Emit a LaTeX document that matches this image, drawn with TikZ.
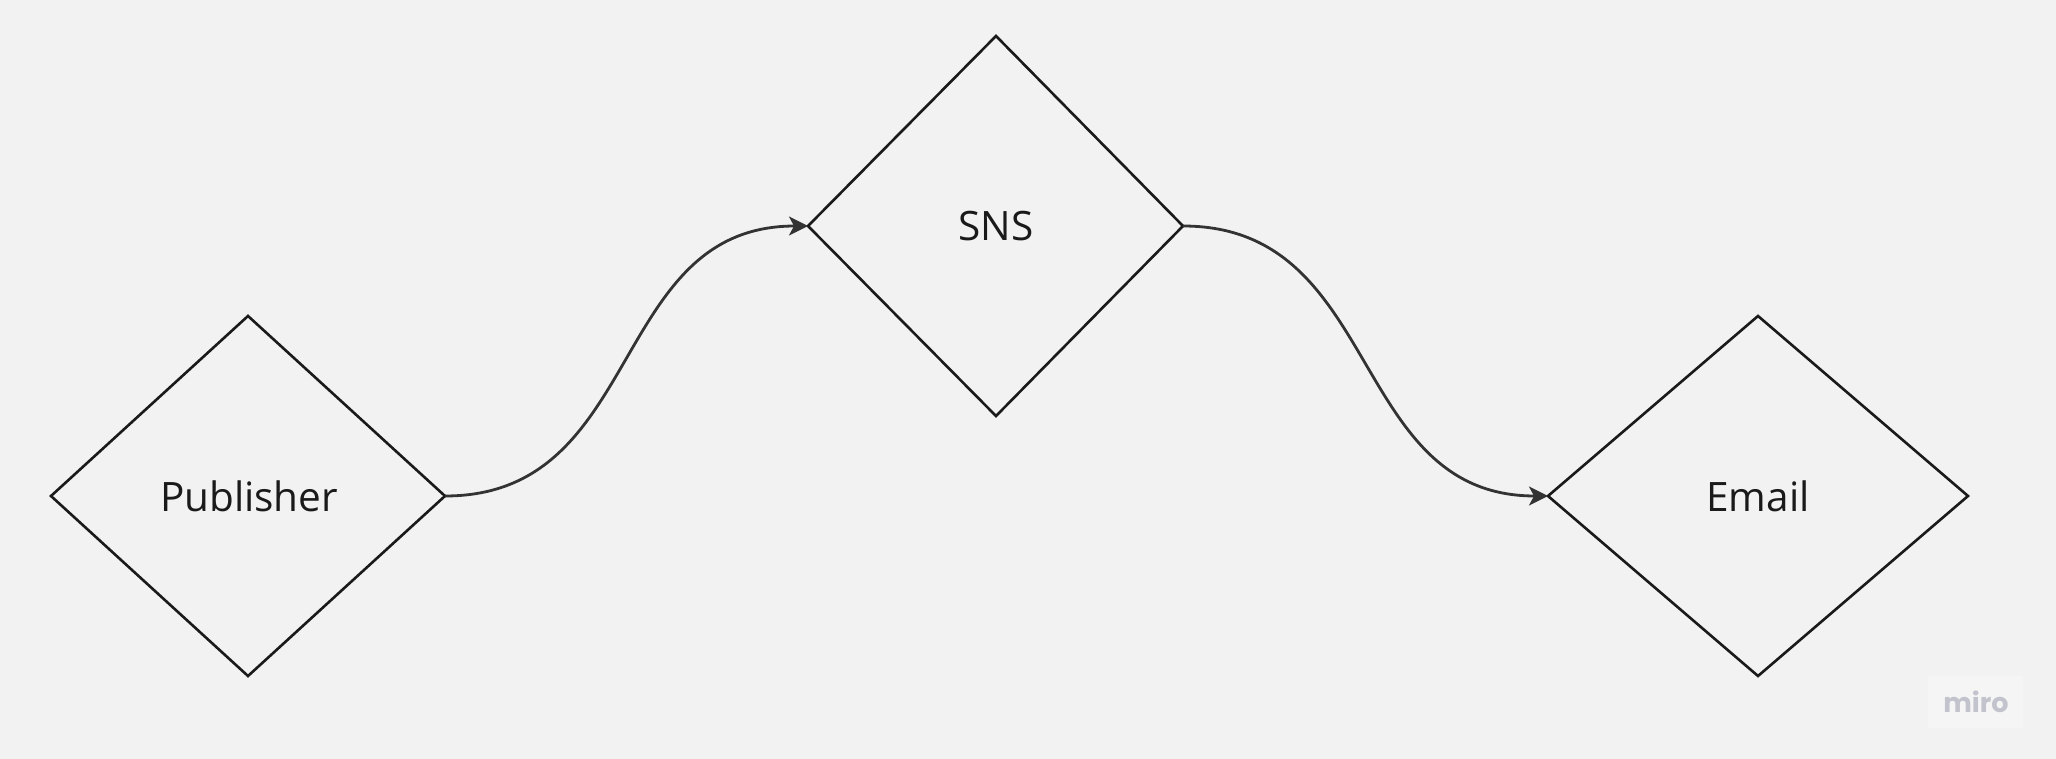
\documentclass[tikz,border=0pt]{standalone}
\usepackage{fontspec}
\setmainfont{Open Sans}
\newfontfamily\logofont{Poppins}
\usetikzlibrary{arrows.meta}
\definecolor{bg}{HTML}{F2F2F2}
\definecolor{shapecol}{HTML}{1A1A1A}
\definecolor{conncol}{HTML}{333333}
\definecolor{logobg}{HTML}{F5F5F5}
\definecolor{logotext}{HTML}{C3C3CD}
\tikzset{
  shapeline/.style={draw=shapecol, line width=2.6pt, line join=miter},
  txt/.style={anchor=base, inner sep=0pt, text=shapecol, font=\fontsize{40.5}{46}\selectfont},
  conn/.style={draw=conncol, line width=2.8pt, -{Stealth[length=19pt,width=19pt,inset=5pt]}},
}
\begin{document}
\begin{tikzpicture}[x=1pt,y=-1pt]
\fill[bg] (0,0) rectangle (2056,759);
\useasboundingbox (0,0) rectangle (2056,759);
% Publisher
\coordinate (pubN) at (248,316);
\coordinate (pubE) at (445,496);
\coordinate (pubS) at (248,676);
\coordinate (pubW) at (51,496);
\draw[shapeline] (pubN) -- (pubE) -- (pubS) -- (pubW) -- cycle;
\node[txt] (pub) at (249,511) {Publisher};
% SNS
\coordinate (snsN) at (996,36);
\coordinate (snsE) at (1183,226);
\coordinate (snsS) at (996,416);
\coordinate (snsW) at (808,226);
\draw[shapeline] (snsN) -- (snsE) -- (snsS) -- (snsW) -- cycle;
\node[txt] (sns) at (996,241) {SNS};
% Email
\coordinate (emN) at (1758,316);
\coordinate (emE) at (1968,496);
\coordinate (emS) at (1758,676);
\coordinate (emW) at (1548,496);
\draw[shapeline] (emN) -- (emE) -- (emS) -- (emW) -- cycle;
\node[txt] (em) at (1758,511) {Email};
% connectors
\draw[conn] (pubE) .. controls +(200,0) and +(-200,0) .. (snsW);
\draw[conn] (snsE) .. controls +(200,0) and +(-200,0) .. (emW);
% logo
\fill[logobg] (1928,676) rectangle (2023,728);
\node[inner sep=0pt, text=logotext, font=\logofont\bfseries\fontsize{27}{30}\selectfont] (logo) at (1976,702) {miro};
\end{tikzpicture}
\end{document}
